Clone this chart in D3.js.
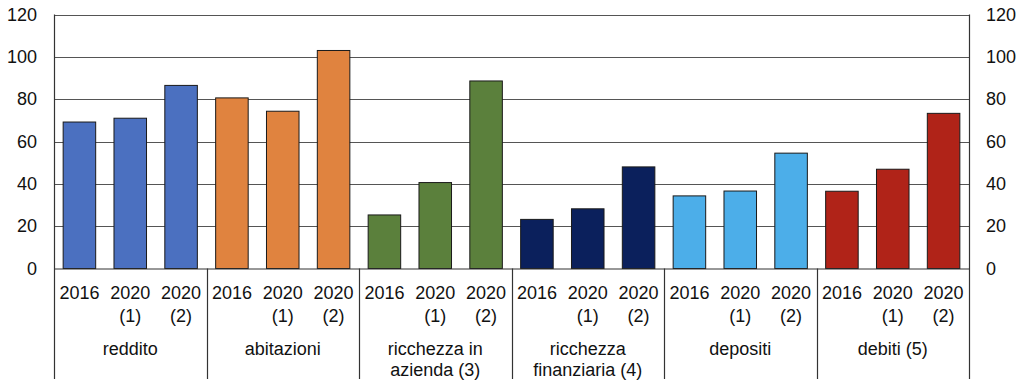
<!DOCTYPE html>
<html>
<head>
<meta charset="utf-8">
<script src="https://cdn.jsdelivr.net/npm/d3@7"></script>
<style>
  body { margin: 0; background: #fff; }
  svg { display: block; font-family: "Liberation Sans", Arial, sans-serif; }
</style>
</head>
<body>
<script>
(function() {

// categories and periods
var groups = ["reddito", "abitazioni", "ricchezza in|azienda (3)", "ricchezza|finanziaria (4)", "depositi", "debiti (5)"];
var periods = ["2016", "2020|(1)", "2020|(2)"];
var colors = ["#4b70c0", "#e0833f", "#5b803c", "#0b205c", "#4caee9", "#b02318"];

// values per period, one entry per group
var v2016 = [69.2, 80.6, 25.3, 23.2, 34.3, 36.5];
var v2020a = [71.0, 74.3, 40.6, 28.2, 36.6, 46.9];
var v2020b = [86.5, 103.0, 88.6, 48.0, 54.5, 73.3];

var yTicks = [0, 20, 40, 60, 80, 100, 120];

var width = 1024, height = 386;
var plotLeft = 54, plotRight = 969, plotTop = 14.5, plotBottom = 268.5;

var data = [];
groups.forEach(function(g, gi) {
  [v2016, v2020a, v2020b].forEach(function(vals, pi) {
    data.push({ key: gi + "-" + pi, group: gi, period: pi, value: vals[gi] });
  });
});

var svg = d3.select("body").
  append("svg").
  attr("width", width).
  attr("height", height);

var x = d3.scaleBand().
  domain(data.map(function(d) { return d.key; })).
  range([plotLeft, plotRight]).
  paddingInner(0.36).
  paddingOuter(0.18);

var y = d3.scaleLinear().
  domain([0, 120]).
  range([plotBottom, plotTop]);

// gridlines
svg.append("g").
  selectAll("line").
  data(yTicks.filter(function(t) { return t > 0; })).
  enter().append("line").
  attr("x1", plotLeft).
  attr("x2", plotRight).
  attr("y1", function(d) { return Math.round(y(d)) + 0.5; }).
  attr("y2", function(d) { return Math.round(y(d)) + 0.5; }).
  attr("stroke", "#555").
  attr("stroke-width", 1.2);

// bars
svg.append("g").
  selectAll("rect").
  data(data).
  enter().append("rect").
  attr("x", function(d) { return x(d.key); }).
  attr("width", x.bandwidth()).
  attr("y", function(d) { return y(d.value); }).
  attr("height", function(d) { return y(0) - y(d.value); }).
  attr("fill", function(d) { return colors[d.group]; }).
  attr("stroke", "#1a1a1a").
  attr("stroke-width", 1);

// y axes labels
var fmt = function(d) { return d; };
var leftAxis = svg.append("g").attr("transform", "translate(" + plotLeft + ",0)").
  call(d3.axisLeft(y).tickValues(yTicks).tickSize(0).tickPadding(17).tickFormat(fmt));
var rightAxis = svg.append("g").attr("transform", "translate(" + plotRight + ",0)").
  call(d3.axisRight(y).tickValues(yTicks).tickSize(0).tickPadding(17).tickFormat(fmt));
[leftAxis, rightAxis].forEach(function(a) {
  a.select(".domain").remove();
  a.selectAll("text").attr("font-size", 18).attr("fill", "#111").attr("font-family", "Liberation Sans, Arial, sans-serif");
});

// frame: zero line and verticals
var lineBottom = 379;
svg.append("line").
  attr("x1", plotLeft).attr("x2", plotRight).
  attr("y1", plotBottom + 0.5).attr("y2", plotBottom + 0.5).
  attr("stroke", "#333").attr("stroke-width", 1.2);

var step = x.step();
var seps = d3.range(groups.length + 1).map(function(i) { return plotLeft + i * 3 * step; });
svg.append("g").
  selectAll("line").
  data(seps).
  enter().append("line").
  attr("x1", function(d) { return Math.round(d) + 0.5; }).
  attr("x2", function(d) { return Math.round(d) + 0.5; }).
  attr("y1", function(d, i) { return (i === 0 || i === groups.length) ? plotTop : plotBottom; }).
  attr("y2", lineBottom).
  attr("stroke", "#333").
  attr("stroke-width", 1.2);

// period labels
var pl = svg.append("g").
  selectAll("text").
  data(data).
  enter().append("text").
  attr("y", 299).
  attr("text-anchor", "middle").
  attr("font-size", 18).
  attr("fill", "#111");
pl.each(function(d) {
  var cx = x(d.key) + x.bandwidth() / 2;
  var t = d3.select(this);
  periods[d.period].split("|").forEach(function(p, i) {
    t.append("tspan").attr("x", cx).attr("dy", i === 0 ? 0 : 23).text(p);
  });
});

// group labels
var gl = svg.append("g").
  selectAll("text").
  data(groups).
  enter().append("text").
  attr("y", 355).
  attr("text-anchor", "middle").
  attr("font-size", 18).
  attr("fill", "#111");
gl.each(function(g, i) {
  var cx = plotLeft + (i * 3 + 1.5) * step;
  var t = d3.select(this);
  g.split("|").forEach(function(p, j) {
    t.append("tspan").attr("x", cx).attr("dy", j === 0 ? 0 : 21).text(p);
  });
});

})();
</script>
</body>
</html>
